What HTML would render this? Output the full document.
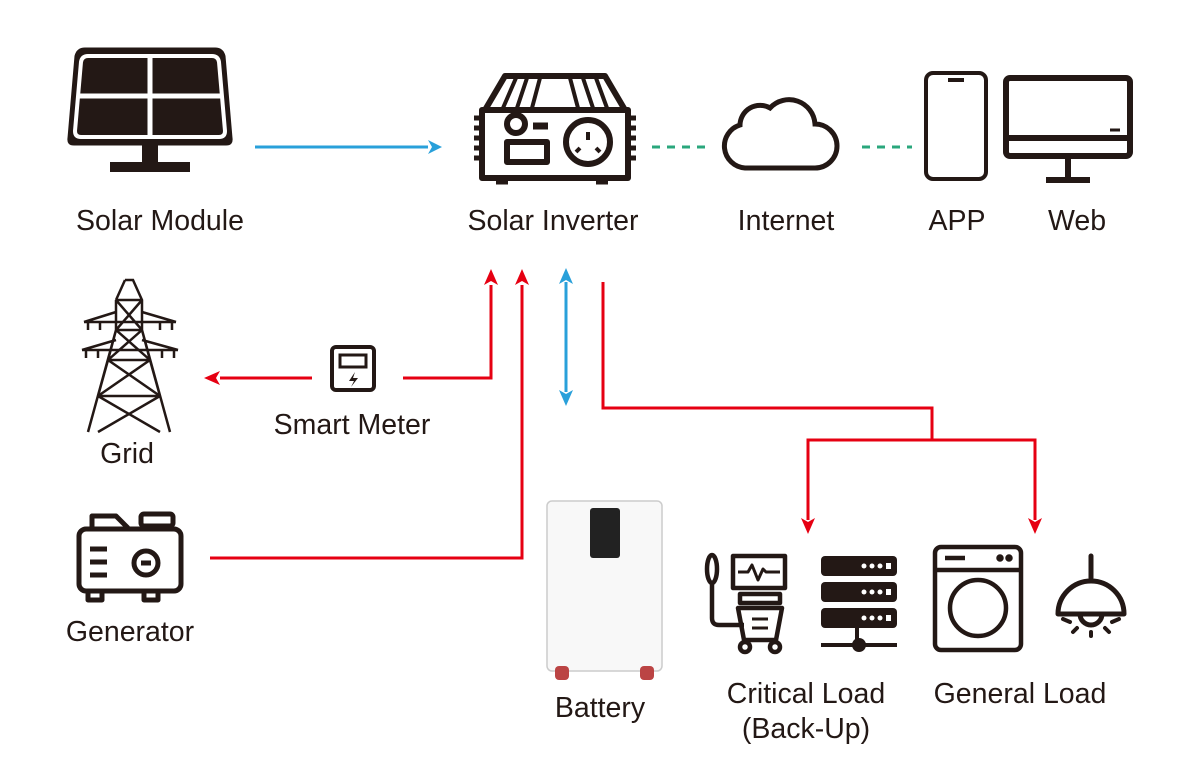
<!DOCTYPE html><html><head><style>body{margin:0;background:#fff}svg{display:block}text{font-family:"Liberation Sans",sans-serif;fill:#231815;font-size:28.5px;text-anchor:middle}</style></head><body>
<svg width="1181" height="776" viewBox="0 0 1181 776" xmlns="http://www.w3.org/2000/svg">
<g fill="none" stroke-width="3">
<path d="M255 147H428" stroke="#29a0da"/><path d="M428 140L442 147L428 154L432 147Z" fill="#29a0da"/>
<path d="M652 147H712M862 147H912" stroke="#2aa77c" stroke-dasharray="8,7"/>
<path d="M403 378H491V285" stroke="#e60012"/><path d="M484 285L491 269L498 285L491 281Z" fill="#e60012"/>
<path d="M210 558H522V285" stroke="#e60012"/><path d="M515 285L522 269L529 285L522 281Z" fill="#e60012"/>
<path d="M312 378H220" stroke="#e60012"/><path d="M220 371L204 378L220 385L216 378Z" fill="#e60012"/>
<path d="M566 282V392" stroke="#29a0da"/><path d="M559 284L566 268L573 284L566 280ZM559 390L566 406L573 390L566 394Z" fill="#29a0da"/>
<path d="M603 282V408H932V440M808 520V440H1035V520" stroke="#e60012"/>
<path d="M801 518L808 534L815 518L808 522ZM1028 518L1035 534L1042 518L1035 522Z" fill="#e60012"/>
</g>
<g fill="#231815" stroke="#231815">
<path d="M85 48H215Q223 48 225 56L232 138Q233 145 226 145H74Q67 145 68 138L75 56Q77 48 85 48Z"/>
<path d="M88 56H212Q218 56 219 62L225 131Q225 137 219 137H81Q75 137 75 131L81 62Q82 56 88 56Z" fill="none" stroke="#fff" stroke-width="4"/>
<path d="M150 56V137M78 96H222" stroke="#fff" stroke-width="5"/>
<rect x="142" y="145" width="16" height="18" stroke="none"/><rect x="110" y="162" width="80" height="10" stroke="none"/>
</g>
<g fill="none" stroke="#231815" stroke-width="6" stroke-linejoin="round">
<path d="M485 110L505 76H605L625 110"/>
<path d="M482 110H628V178H482Z"/>
<path d="M516 78L503 108M527 78L517 108M540 78L532 108M570 78L578 108M583 78L593 108M596 78L607 108" stroke-width="4"/>
<circle cx="516" cy="124" r="9"/><path d="M533 126H548" stroke-width="7"/>
<rect x="507" y="142" width="40" height="20"/>
<circle cx="588" cy="142" r="22"/>
<path d="M588 132V140M580 148L576 152M596 148L600 152" stroke-width="4"/>
<path d="M474 118H480M474 128H480M474 138H480M474 148H480M474 158H480M630 118H636M630 128H636M630 138H636M630 148H636M630 158H636" stroke-width="5"/>
<path d="M496 182H508M596 182H608" stroke-width="5"/>
</g>
<path d="M745 168H815A22 22 0 0 0 815 124A26 26 0 0 0 770 108A20 20 0 0 0 740 125A22 22 0 0 0 745 168Z" fill="none" stroke="#231815" stroke-width="5"/>
<rect x="926" y="73" width="60" height="106" rx="7" fill="none" stroke="#231815" stroke-width="4"/><path d="M948 80H964" stroke="#231815" stroke-width="4"/>
<rect x="1006" y="78" width="124" height="78" rx="4" fill="none" stroke="#231815" stroke-width="6"/><path d="M1006 138H1130" stroke="#231815" stroke-width="6"/><path d="M1110 130H1120" stroke="#231815" stroke-width="3"/>
<path d="M1068 156V178M1046 180H1090" stroke="#231815" stroke-width="6"/>
<g fill="none" stroke="#231815" stroke-width="2.5">
<path d="M125 280H133L142 300V330L170 432M116 300L125 280M116 300V330L88 432M116 300H142M116 330H142M116 300L142 330M142 300L116 330M116 330L108 360H150L142 330ZM116 330L150 360M142 330L108 360M108 360L98 396H160L150 360ZM108 360L160 396M150 360L98 396M98 396L160 432M160 396L98 432"/>
<path d="M84 322H176M82 350H178M116 312L84 322M142 312L176 322M116 340L82 350M142 340L178 350M88 322V330M100 322V330M160 322V330M172 322V330M86 350V358M98 350V358M162 350V358M174 350V358"/>
</g>
<rect x="332" y="347" width="42" height="43" rx="4" fill="none" stroke="#231815" stroke-width="4"/><rect x="340" y="355" width="26" height="12" fill="none" stroke="#231815" stroke-width="3"/><path d="M355 372L349 381H354L351 387L358 378H353Z" fill="#231815"/>
<g fill="none" stroke="#231815" stroke-width="5" stroke-linejoin="round">
<path d="M92 528V516H116L128 528"/><rect x="141" y="514" width="32" height="12" rx="3"/>
<rect x="79" y="529" width="102" height="62" rx="7"/>
<path d="M90 549H107M90 562H107M90 575H107"/><circle cx="146" cy="563" r="12"/><path d="M141 563H151"/>
<path d="M88 592V600H102V592M144 592V600H158V592" />
</g>
<rect x="547" y="501" width="115" height="170" rx="5" fill="#f8f8f8" stroke="#ccc" stroke-width="1.5"/>
<rect x="590" y="508" width="30" height="50" rx="3" fill="#222"/>
<rect x="555" y="666" width="14" height="14" rx="4" fill="#b44"/><rect x="640" y="666" width="14" height="14" rx="4" fill="#b44"/>
<g fill="none" stroke="#231815" stroke-width="4.5" stroke-linejoin="round">
<ellipse cx="712" cy="569" rx="5" ry="14"/><path d="M712 583V618Q712 625 719 625H744"/>
<rect x="733" y="556" width="52" height="32"/><path d="M738 572H748L752 565L758 580L763 569L766 572H780" stroke-width="3"/>
<rect x="740" y="594" width="40" height="9"/><path d="M738 608H782L776 640H744Z"/><path d="M752 619H768M752 628H768" stroke-width="3"/>
<circle cx="745" cy="647" r="5"/><circle cx="775" cy="647" r="5"/>
</g>
<g fill="#231815">
<rect x="821" y="556" width="76" height="20" rx="4"/><rect x="821" y="582" width="76" height="20" rx="4"/><rect x="821" y="608" width="76" height="20" rx="4"/>
<path d="M857 628V640M821 645H897" stroke="#231815" stroke-width="4"/><circle cx="859" cy="645" r="7"/>
<g fill="#fff"><circle cx="864" cy="566" r="2.5"/><circle cx="872" cy="566" r="2.5"/><circle cx="880" cy="566" r="2.5"/><rect x="886" y="563" width="5" height="6"/><circle cx="864" cy="592" r="2.5"/><circle cx="872" cy="592" r="2.5"/><circle cx="880" cy="592" r="2.5"/><rect x="886" y="589" width="5" height="6"/><circle cx="864" cy="618" r="2.5"/><circle cx="872" cy="618" r="2.5"/><circle cx="880" cy="618" r="2.5"/><rect x="886" y="615" width="5" height="6"/></g>
</g>
<g fill="none" stroke="#231815" stroke-width="4.5">
<rect x="935" y="547" width="86" height="103" rx="6"/><path d="M935 570H1021M945 558H965"/><circle cx="978" cy="608" r="28"/>
<circle cx="1000" cy="558" r="1.5" fill="#231815"/><circle cx="1009" cy="558" r="1.5" fill="#231815"/>
</g>
<g fill="none" stroke="#231815" stroke-width="5" stroke-linecap="round">
<path d="M1091 556V578"/><path d="M1058 614A33 33 0 0 1 1124 614Z" stroke-linejoin="round"/><path d="M1080 614A11 11 0 0 0 1102 614"/>
<path d="M1063 619L1070 622M1119 619L1112 622M1073 632L1077 628M1109 632L1105 628M1091 636V632" stroke-width="4"/>
</g>
<text x="160" y="230">Solar Module</text>
<text x="553" y="230">Solar Inverter</text>
<text x="786" y="230">Internet</text>
<text x="957" y="230">APP</text>
<text x="1077" y="230">Web</text>
<text x="352" y="434">Smart Meter</text>
<text x="127" y="463">Grid</text>
<text x="130" y="641">Generator</text>
<text x="600" y="717">Battery</text>
<text x="806" y="703">Critical Load</text>
<text x="806" y="738">(Back-Up)</text>
<text x="1020" y="703">General Load</text>
</svg>
</body></html>
